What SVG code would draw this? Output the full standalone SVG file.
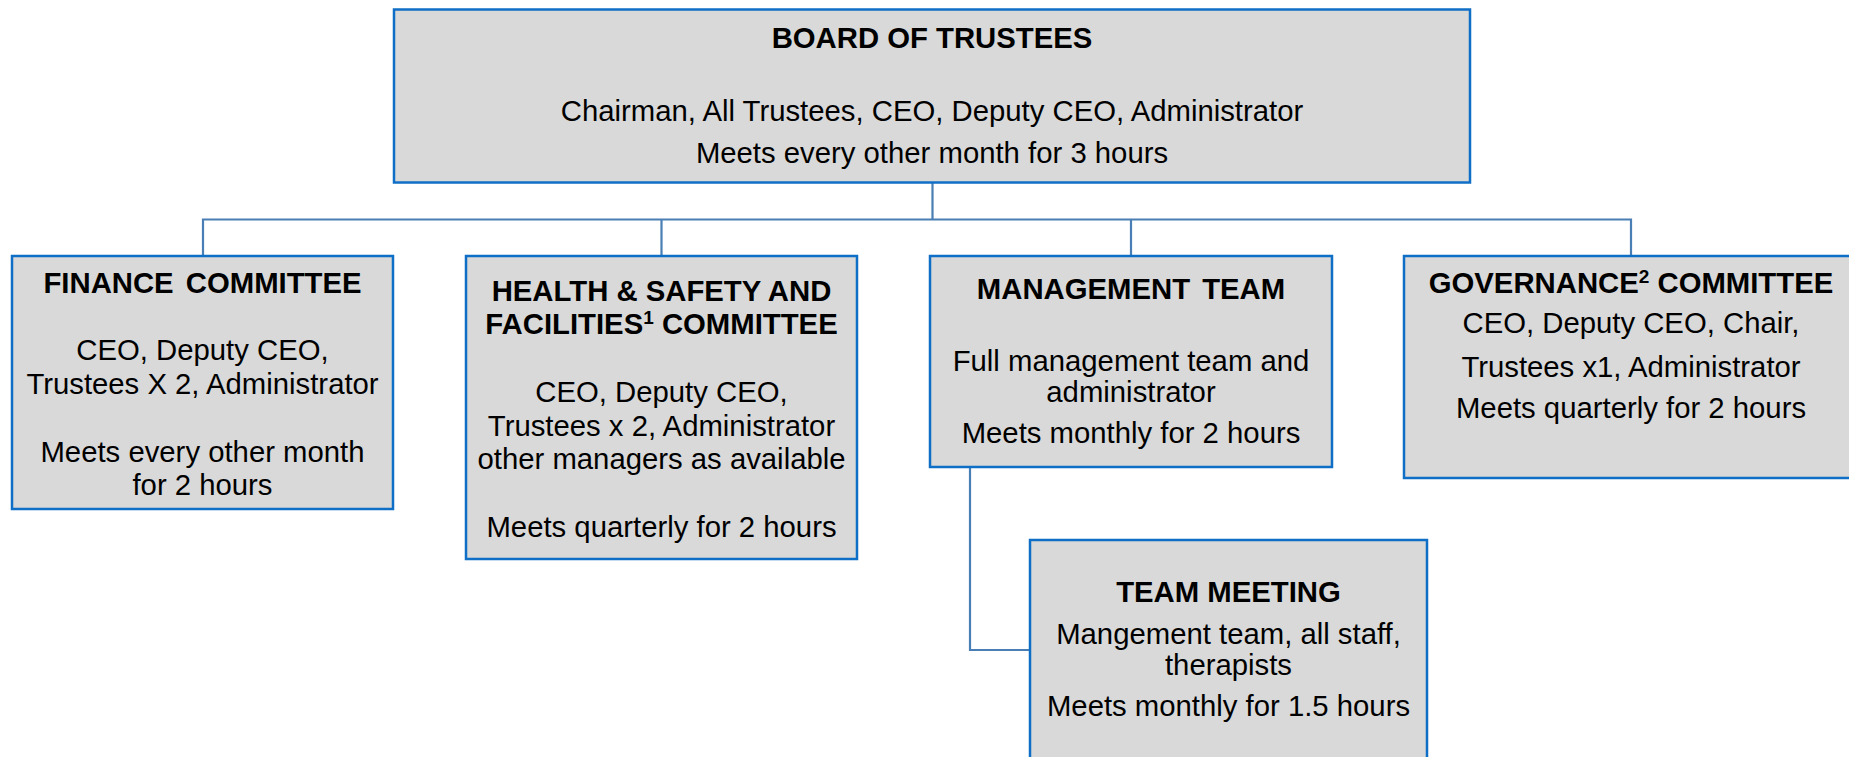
<svg xmlns="http://www.w3.org/2000/svg" width="1849" height="757" viewBox="0 0 1849 757">
<style>
.box{fill:#d9d9d9;stroke:#0f6fc6;stroke-width:2.5}
.con{fill:none;stroke:#4a7fb5;stroke-width:2.2}
text{font-family:"Liberation Sans",Arial,sans-serif;font-size:29.3px;fill:#000;text-anchor:middle}
.t{font-weight:bold}
.sup{font-size:19px;baseline-shift:10px}
</style>
<rect width="1849" height="757" fill="#fff"/>
<g id="connectors">
<path class="con" d="M932.5 183V219.5M203 256V219.5H1631V256M661.5 219.5V256M1131 219.5V256"/>
<path class="con" d="M970 467V650H1030"/>
</g>
<g id="board">
<rect class="box" x="394" y="9.5" width="1076" height="173"/>
<text class="t" x="932" y="48">BOARD OF TRUSTEES</text>
<text x="932" y="121">Chairman, All Trustees, CEO, Deputy CEO, Administrator</text>
<text x="932" y="163">Meets every other month for 3 hours</text>
</g>
<g id="finance">
<rect class="box" x="12" y="256" width="381" height="253"/>
<text class="t" x="202.5" y="293" word-spacing="4">FINANCE COMMITTEE</text>
<text x="202.5" y="360">CEO, Deputy CEO,</text>
<text x="202.5" y="394">Trustees X 2, Administrator</text>
<text x="202.5" y="462">Meets every other month</text>
<text x="202.5" y="495">for 2 hours</text>
</g>
<g id="health">
<rect class="box" x="466" y="256" width="391" height="303"/>
<text class="t" x="661.5" y="301">HEALTH &amp; SAFETY AND</text>
<text class="t" x="661.5" y="334">FACILITIES<tspan class="sup">1</tspan> COMMITTEE</text>
<text x="661.5" y="402">CEO, Deputy CEO,</text>
<text x="661.5" y="436">Trustees x 2, Administrator</text>
<text x="661.5" y="469">other managers as available</text>
<text x="661.5" y="537">Meets quarterly for 2 hours</text>
</g>
<g id="management">
<rect class="box" x="930" y="256" width="402" height="211"/>
<text class="t" x="1131" y="299" word-spacing="4">MANAGEMENT TEAM</text>
<text x="1131" y="371">Full management team and</text>
<text x="1131" y="402">administrator</text>
<text x="1131" y="443">Meets monthly for 2 hours</text>
</g>
<g id="governance">
<rect class="box" x="1404" y="256" width="460" height="222"/>
<text class="t" x="1631" y="293">GOVERNANCE<tspan class="sup">2</tspan> COMMITTEE</text>
<text x="1631" y="333">CEO, Deputy CEO, Chair,</text>
<text x="1631" y="377">Trustees x1, Administrator</text>
<text x="1631" y="418">Meets quarterly for 2 hours</text>
</g>
<g id="team-meeting">
<rect class="box" x="1030" y="540" width="397" height="240"/>
<text class="t" x="1228.5" y="602">TEAM MEETING</text>
<text x="1228.5" y="644">Mangement team, all staff,</text>
<text x="1228.5" y="675">therapists</text>
<text x="1228.5" y="716">Meets monthly for 1.5 hours</text>
</g>
</svg>
